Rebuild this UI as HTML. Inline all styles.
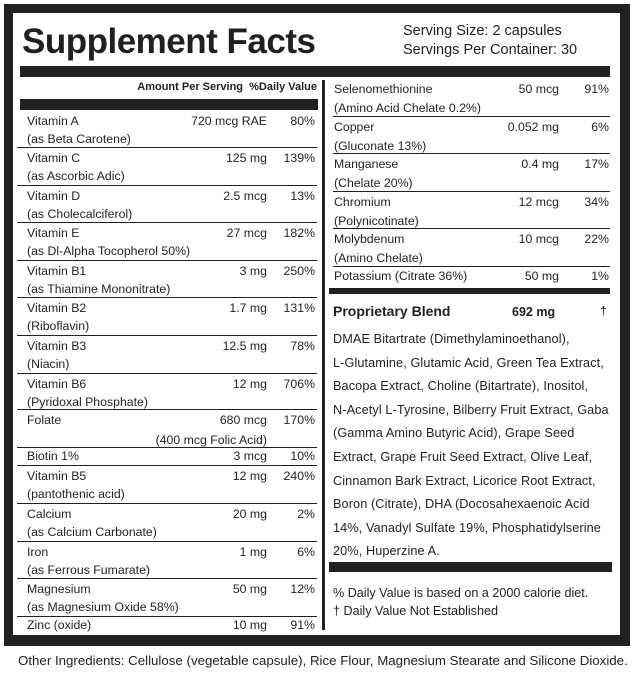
<!DOCTYPE html>
<html><head><meta charset="utf-8"><style>
body{margin:0;width:631px;height:678px;background:#fff;position:relative;overflow:hidden;font-family:"Liberation Sans",sans-serif;color:#231f20}
.a{position:absolute;white-space:nowrap;font-size:12.3px;line-height:18px}
.r{text-align:right}
.bk{position:absolute;background:#231f20}
.hl{position:absolute;height:1px;background:#231f20}
</style></head><body>
<div class="bk" style="left:4px;top:4px;width:626px;height:9px"></div>
<div class="bk" style="left:4px;top:4px;width:9px;height:642px"></div>
<div class="bk" style="left:620px;top:4px;width:10px;height:642px"></div>
<div class="bk" style="left:4px;top:635px;width:626px;height:11px"></div>
<div class="a" style="left:22px;top:20px;font-size:35px;line-height:44px;font-weight:bold;letter-spacing:-0.5px">Supplement Facts</div>
<div class="a" style="left:403px;top:22px;font-size:14.5px">Serving Size: 2 capsules</div>
<div class="a" style="left:403px;top:41px;font-size:14.5px">Servings Per Container: 30</div>
<div class="bk" style="left:20px;top:66px;width:590px;height:11px"></div>
<div class="a r" style="left:20px;width:297px;top:78px;font-size:11px;font-weight:bold">Amount Per Serving&nbsp;&nbsp;%Daily Value</div>
<div class="bk" style="left:20px;top:99px;width:298px;height:11px"></div>
<div class="bk" style="left:322px;top:80px;width:3px;height:550px"></div>
<div id="L"></div>
<div class="bk" style="left:329px;top:288px;width:281px;height:6px"></div>
<div class="a" style="left:333px;top:302px;font-size:14px;font-weight:bold">Proprietary Blend</div>
<div class="a" style="left:512px;top:303px;font-size:12.5px;font-weight:bold">692 mg</div>
<div class="a" style="left:600px;top:302px">†</div>
<div class="a" style="left:333px;top:328px;line-height:23.6px;font-size:12.7px;letter-spacing:0.1px">DMAE Bitartrate (Dimethylaminoethanol),<br>L-Glutamine, Glutamic Acid, Green Tea Extract,<br>Bacopa Extract, Choline (Bitartrate), Inositol,<br>N-Acetyl L-Tyrosine, Bilberry Fruit Extract, Gaba<br>(Gamma Amino Butyric Acid), Grape Seed<br>Extract, Grape Fruit Seed Extract, Olive Leaf,<br>Cinnamon Bark Extract, Licorice Root Extract,<br>Boron (Citrate), DHA (Docosahexaenoic Acid<br>14%, Vanadyl Sulfate 19%, Phosphatidylserine<br>20%, Huperzine A.</div>
<div class="bk" style="left:329px;top:562px;width:283px;height:10px"></div>
<div class="a" style="left:333px;top:584px;font-size:12.6px">% Daily Value is based on a 2000 calorie diet.</div>
<div class="a" style="left:333px;top:602px;font-size:12.6px">† Daily Value Not Established</div>
<div class="a" style="left:18px;top:652px;font-size:13.3px">Other Ingredients: Cellulose (vegetable capsule), Rice Flour, Magnesium Stearate and Silicone Dioxide.</div>
<script>
var h='';
function t(x,y,s,w,r){h+='<div class="a'+(r?' r':'')+'" style="left:'+x+'px;top:'+(y-9)+'px;'+(w?'width:'+w+'px':'')+'">'+s+'</div>';}
var L=[[110,'Vitamin A','(as Beta Carotene)','720 mcg RAE','80%'],[147,'Vitamin C','(as Ascorbic Adic)','125 mg','139%'],[185,'Vitamin D','(as Cholecalciferol)','2.5 mcg','13%'],[222,'Vitamin E','(as Dl-Alpha Tocopherol 50%)','27 mcg','182%'],[260,'Vitamin B1','(as Thiamine Mononitrate)','3 mg','250%'],[297,'Vitamin B2','(Riboflavin)','1.7 mg','131%'],[335,'Vitamin B3','(Niacin)','12.5 mg','78%'],[373,'Vitamin B6','(Pyridoxal Phosphate)','12 mg','706%'],[409,'Folate','','680 mcg','170%'],[447,'Biotin 1%','','3 mcg','10%'],[465,'Vitamin B5','(pantothenic acid)','12 mg','240%'],[503,'Calcium','(as Calcium Carbonate)','20 mg','2%'],[541,'Iron','(as Ferrous Fumarate)','1 mg','6%'],[578,'Magnesium','(as Magnesium Oxide 58%)','50 mg','12%'],[616,'Zinc (oxide)','','10 mg','91%']];
L.forEach(function(r,i){var c=r[0]+11;if(r[1]=='Biotin 1%'||r[1]=='Zinc (oxide)')c=r[0]+9;
if(i>0)h+='<div class="hl" style="left:17px;width:300px;top:'+r[0]+'px"></div>';
t(27,c,r[1]);if(r[2])t(27,c+18,r[2]);t(100,c,r[3],167,1);t(270,c,r[4],45,1);});
t(100,440,'(400 mcg Folic Acid)',167,1);
var R=[[78,'Selenomethionine','(Amino Acid Chelate 0.2%)','50 mcg','91%'],[116,'Copper','(Gluconate 13%)','0.052 mg','6%'],[153,'Manganese','(Chelate 20%)','0.4 mg','17%'],[191,'Chromium','(Polynicotinate)','12 mcg','34%'],[228,'Molybdenum','(Amino Chelate)','10 mcg','22%'],[266,'Potassium (Citrate 36%)','','50 mg','1%']];
R.forEach(function(r,i){var c=r[0]+11;if(i==5)c=r[0]+10;
if(i>0)h+='<div class="hl" style="left:333px;width:277px;top:'+r[0]+'px"></div>';
t(334,c,r[1]);if(r[2])t(334,c+19,r[2]);t(440,c,r[3],119,1);t(560,c,r[4],49,1);});
document.getElementById('L').innerHTML=h;
</script>
</body></html>
